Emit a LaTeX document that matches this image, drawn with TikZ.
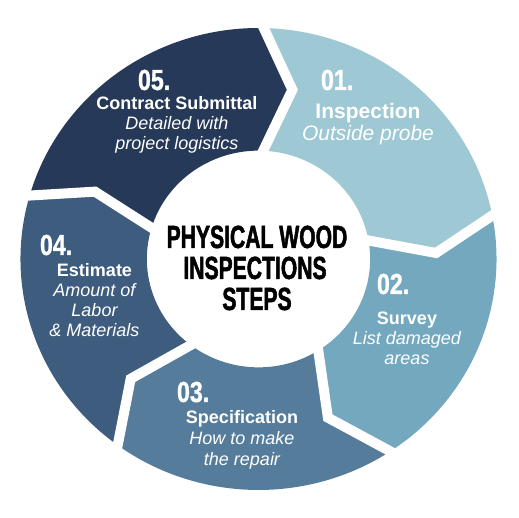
\documentclass[tikz,border=0pt]{standalone}
\usepackage{fontspec}
\setmainfont{Liberation Sans}
\newfontfamily\condfont[FakeStretch=0.66,FakeBold=1.5]{Liberation Sans}
\newfontfamily\numfont[FakeStretch=0.8,FakeBold=1]{Liberation Sans}
\definecolor{segA}{HTML}{9DC8D4}
\definecolor{segB}{HTML}{74A8BF}
\definecolor{segC}{HTML}{557C9B}
\definecolor{segD}{HTML}{3E5C7D}
\definecolor{segE}{HTML}{263958}
\begin{document}
\begin{tikzpicture}[x=1pt,y=1pt,
  every node/.style={inner sep=0pt,outer sep=0pt},
  lab/.style={text=white,font=\fontsize{18}{20}\selectfont\bfseries,anchor=base},
  desc/.style={text=white,font=\fontsize{18}{20}\selectfont\itshape,anchor=base},
  labbig/.style={text=white,font=\fontsize{21}{23}\selectfont\bfseries,anchor=base},
  descbig/.style={text=white,font=\fontsize{21}{23}\selectfont\itshape,anchor=base},
  num/.style={text=white,font=\numfont\bfseries\fontsize{29}{30}\selectfont,anchor=base west},
  title/.style={text=black,font=\condfont\bfseries\fontsize{32}{32}\selectfont,anchor=base},
  gap/.style={white,line width=10pt,line join=miter}]
\useasboundingbox (-258.5,-259) rectangle (260.5,259);
\begin{scope}[xscale=1.015,yscale=0.985]
  % 01 Inspection
  \fill[segA] (90:234.5) arc[start angle=90,end angle=12,radius=234.5] -- (2:175)
    -- (12:110) arc[start angle=12,end angle=90,radius=110] -- (79:175) -- cycle;
  % 02 Survey
  \fill[segB] (12:234.5) arc[start angle=12,end angle=-55,radius=234.5] -- (-67:175)
    -- (-55:110) arc[start angle=-55,end angle=12,radius=110] -- (2:175) -- cycle;
  % 03 Specification
  \fill[segC] (-55:234.5) arc[start angle=-55,end angle=-125,radius=234.5] -- (-136:175)
    -- (-125:110) arc[start angle=-125,end angle=-55,radius=110] -- (-67:175) -- cycle;
  % 04 Estimate
  \fill[segD] (-125:234.5) arc[start angle=-125,end angle=-195,radius=234.5] -- (-203:175)
    -- (-195:110) arc[start angle=-195,end angle=-125,radius=110] -- (-136:175) -- cycle;
  % 05 Contract Submittal
  \fill[segE] (165:234.5) arc[start angle=165,end angle=90,radius=234.5] -- (79:175)
    -- (90:110) arc[start angle=90,end angle=165,radius=110] -- (157:175) -- cycle;
  % gaps
  \draw[gap] (90:246) -- (79:175) -- (90:100);
  \draw[gap] (12:246) -- (2:175) -- (12:100);
  \draw[gap] (-55:246) -- (-67:175) -- (-55:100);
  \draw[gap] (-125:246) -- (-136:175) -- (-125:100);
  \draw[gap] (165:246) -- (157:175) -- (165:100);
\end{scope}
% 05
\node[num] (n5) at (-120.5,169) {05.};
\node[lab] (t5) at (-81.5,149) {Contract Submittal};
\node[desc] (d5a) at (-81.5,129) {Detailed with};
\node[desc] (d5b) at (-81.5,109) {project logistics};
% 01
\node[num] (n1) at (62.5,169) {01.};
\node[labbig] (t1) at (109.5,140) {Inspection};
\node[descbig] (d1) at (109.5,118) {Outside probe};
% 02
\node[num] (n2) at (118.5,-35) {02.};
\node[lab] (t2) at (148.5,-66) {Survey};
\node[desc] (d2a) at (148.5,-86) {List damaged};
\node[desc] (d2b) at (148.5,-106) {areas};
% 03
\node[num] (n3) at (-81.5,-143) {03.};
\node[lab] (t3) at (-16.5,-165) {Specification};
\node[desc] (d3a) at (-16.5,-186) {How to make};
\node[desc] (d3b) at (-16.5,-207) {the repair};
% 04
\node[num] (n4) at (-218.5,4) {04.};
\node[lab] (t4) at (-164,-18) {Estimate};
\node[desc] (d4a) at (-164,-38) {Amount of};
\node[desc] (d4b) at (-164,-58) {Labor};
\node[desc] (d4c) at (-164,-78) {\& Materials};
% centre
\node[title] (c1) at (-1.5,11) {PHYSICAL WOOD};
\node[title] (c2) at (-3.5,-20) {INSPECTIONS};
\node[title] (c3) at (-1.5,-51) {STEPS};
\end{tikzpicture}
\end{document}
